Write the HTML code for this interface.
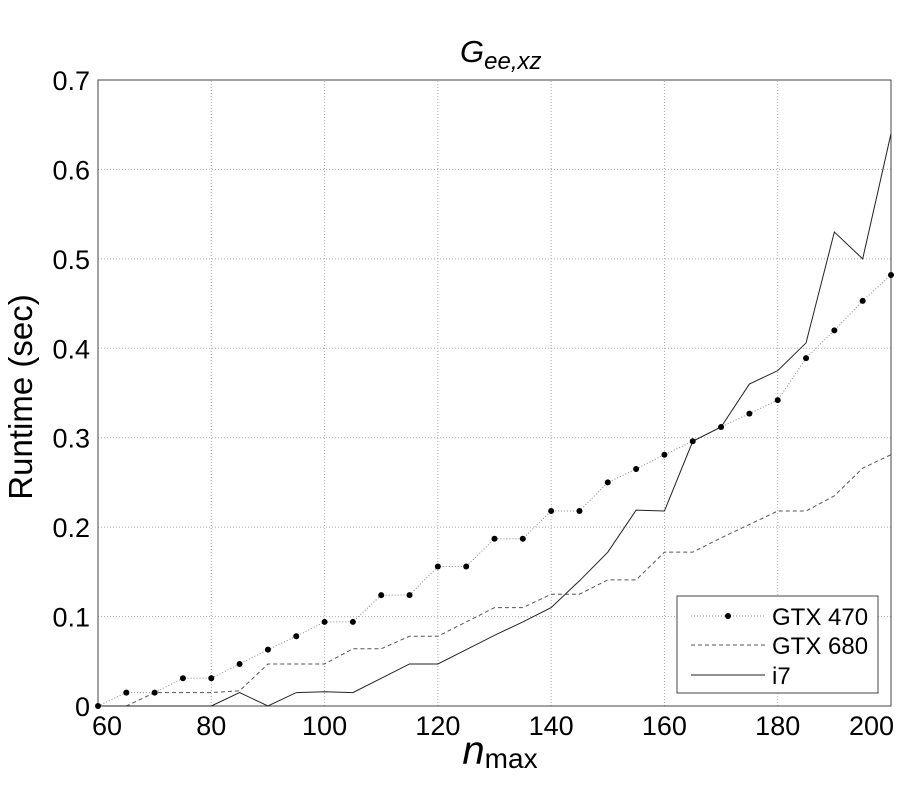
<!DOCTYPE html>
<html><head><meta charset="utf-8"><style>
body{margin:0;background:#fff;}
svg text{font-family:"Liberation Sans",Arial,sans-serif;fill:#000;}
</style></head><body>
<svg id="chart" width="900" height="800" xmlns="http://www.w3.org/2000/svg">
<rect width="900" height="800" fill="#fff"/>
<g id="grid"></g>
<g id="axes"></g>
<g id="series"></g>
<text x="460" y="62" font-size="31" font-style="italic">G<tspan font-size="24" dy="7">ee,xz</tspan></text>
<text transform="translate(32,397) rotate(-90)" font-size="33" text-anchor="middle">Runtime (sec)</text>
<text x="500" y="764" font-size="40" font-style="italic" text-anchor="middle">n<tspan font-style="normal" font-size="28" dy="4">max</tspan></text>
<g>
<rect x="677" y="596" width="201" height="97" fill="#fff" stroke="#444" stroke-width="1"/>
<g>
<line x1="691" y1="616" x2="765" y2="616" stroke="#888" stroke-dasharray="1,2"/>
<circle cx="728" cy="616" r="3" fill="#000"/>
<text x="772" y="625" font-size="24">GTX 470</text></g>
<g>
<line x1="691" y1="645" x2="765" y2="645" stroke="#555" stroke-dasharray="4,3"/>
<text x="772" y="654" font-size="24">GTX 680</text></g>
<g>
<line x1="691" y1="675" x2="765" y2="675" stroke="#222"/>
<text x="772" y="684" font-size="24">i7</text></g>
</g>
</svg>
<script>
const nmax=[60,65,70,75,80,85,90,95,100,105,110,115,120,125,130,135,140,145,150,155,160,165,170,175,180,185,190,195,200];
const gtx470=[0,0.015,0.015,0.031,0.031,0.047,0.063,0.078,0.094,0.094,0.124,0.124,0.156,0.156,0.187,0.187,0.218,0.218,0.25,0.265,0.281,0.296,0.312,0.327,0.342,0.389,0.42,0.453,0.482];
const gtx680=[0,0,0.015,0.015,0.015,0.017,0.047,0.047,0.047,0.064,0.064,0.078,0.078,0.094,0.11,0.11,0.125,0.125,0.141,0.141,0.172,0.172,0.188,0.203,0.218,0.218,0.235,0.266,0.281];
const i7=[0,0,0,0,0,0.015,0,0.015,0.016,0.015,0.031,0.047,0.047,0.063,0.079,0.094,0.11,0.14,0.172,0.219,0.218,0.296,0.312,0.36,0.375,0.406,0.53,0.5,0.64];
const xTicks=[60,80,100,120,140,160,180,200];
const yTicks=[0,0.1,0.2,0.3,0.4,0.5,0.6,0.7];
const X0=98,X1=891,Y0=706,Y1=80,xmin=60,xmax=200,ymin=0,ymax=0.7;
const sx=v=>X0+(v-xmin)/(xmax-xmin)*(X1-X0);
const sy=v=>Y0-(v-ymin)/(ymax-ymin)*(Y0-Y1);
const NS='http://www.w3.org/2000/svg';
function mk(tag,attrs,parent){const e=document.createElementNS(NS,tag);for(const k in attrs)e.setAttribute(k,attrs[k]);parent.appendChild(e);return e;}
const grid=document.getElementById('grid'),axes=document.getElementById('axes'),series=document.getElementById('series');
xTicks.forEach((t,i)=>{
 const g=mk('line',{x1:sx(t),x2:sx(t),y1:Y0,y2:Y1,stroke:'#aaa','stroke-dasharray':'1,2'},grid);
 
 
 let x=sx(t),a='middle';
 if(i===0){x=sx(t)+9;}
 if(i===xTicks.length-1){x=894;a='end';}
 const tk=mk('text',{x:x,y:Y0+29,'font-size':27,'text-anchor':a},axes);tk.textContent=t;
 
 
});
yTicks.forEach(t=>{
 const g=mk('line',{x1:X0,x2:X1,y1:sy(t),y2:sy(t),stroke:'#aaa','stroke-dasharray':'1,2'},grid);
 
 
 const tk=mk('text',{x:90,y:sy(t)+10,'font-size':27,'text-anchor':'end'},axes);tk.textContent=t;
 
 
});
const fr=mk('rect',{x:X0,y:Y1,width:X1-X0,height:Y0-Y1,fill:'none',stroke:'#444','stroke-width':1},axes);


function pts(arr){return nmax.map((n,i)=>sx(n)+','+sy(arr[i])).join(' ');}
const l1=mk('polyline',{points:pts(gtx470),fill:'none',stroke:'#888','stroke-width':1,'stroke-dasharray':'1,2'},series);


const l2=mk('polyline',{points:pts(gtx680),fill:'none',stroke:'#555','stroke-width':1,'stroke-dasharray':'4,3'},series);


const l3=mk('polyline',{points:pts(i7),fill:'none',stroke:'#222','stroke-width':1},series);


nmax.forEach((n,i)=>{
 const c=mk('circle',{cx:sx(n),cy:sy(gtx470[i]),r:3,fill:'#000'},series);
 
 
});
</script>
</body></html>
